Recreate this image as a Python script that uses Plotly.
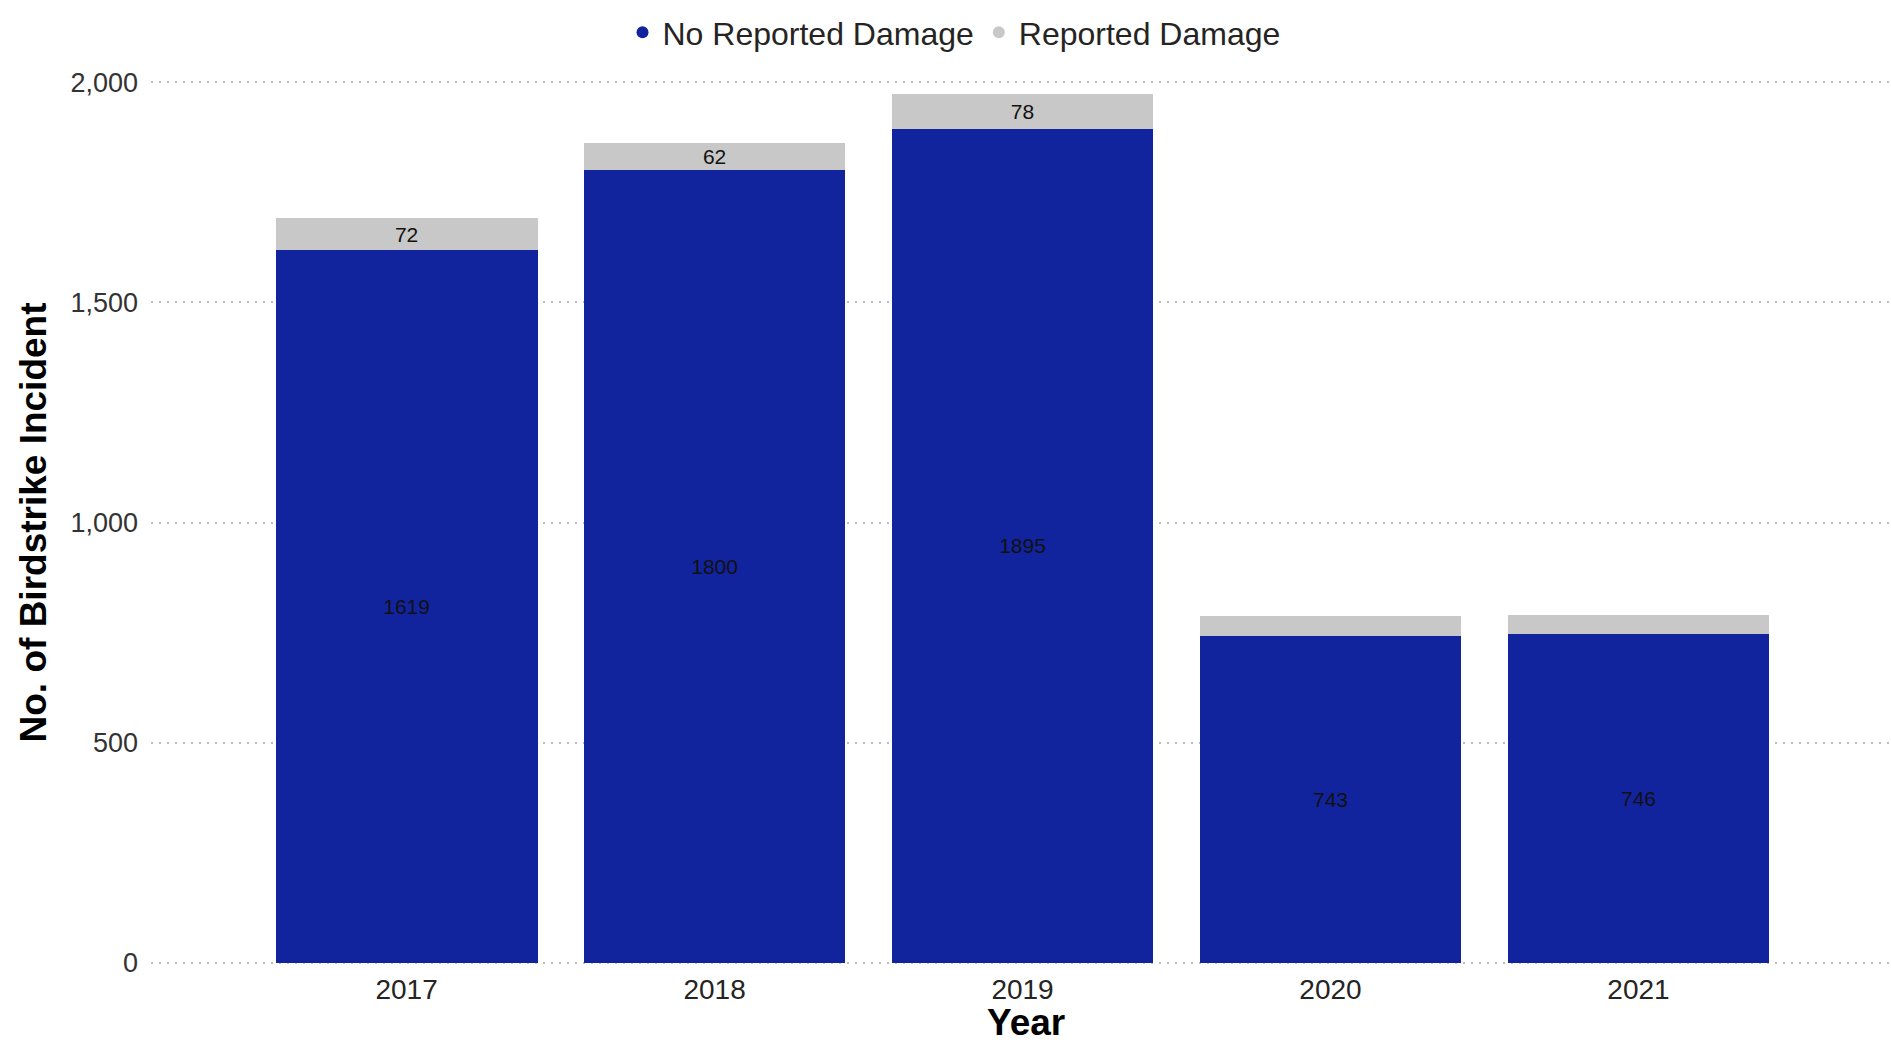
import plotly.graph_objects as go

# Birdstrike incidents per year, split by damage status
years = ["2017", "2018", "2019", "2020", "2021"]
no_damage = [1619, 1800, 1895, 743, 746]
damage = [72, 62, 78, 44, 45]
y_ticks = [0, 500, 1000, 1500, 2000]
y_tick_text = ["0", "500", "1,000", "1,500", "2,000"]

BLUE = "#12239E"
GREY = "#C8C8C8"
TEXT = "#252423"
FONT = "Liberation Sans, Arial, sans-serif"

# small segments are left unlabelled because the label would not fit
damage_text = [str(v) if v >= 50 else "" for v in damage]

fig = go.Figure()
fig.add_trace(go.Bar(
    x=years, y=no_damage, name="No Reported Damage",
    marker=dict(color=BLUE, line=dict(width=0)),
    text=[str(v) for v in no_damage], textposition="inside",
    insidetextanchor="middle", textangle=0,
    textfont=dict(size=21, color="#111111", family=FONT),
    showlegend=False, hoverinfo="x+y+name",
))
fig.add_trace(go.Bar(
    x=years, y=damage, name="Reported Damage",
    marker=dict(color=GREY, line=dict(width=0)),
    text=damage_text, textposition="inside",
    insidetextanchor="middle", textangle=0,
    textfont=dict(size=21, color="#111111", family=FONT),
    constraintext="none",
    showlegend=False, hoverinfo="x+y+name",
))

# legend entries drawn with round markers
for name, color in [("No Reported Damage", BLUE), ("Reported Damage", GREY)]:
    fig.add_trace(go.Scatter(
        x=[None], y=[None], mode="markers", name=name,
        marker=dict(symbol="circle", size=13, color=color),
    ))

fig.update_layout(
    width=1891, height=1044,
    margin=dict(l=151, r=0, t=81, b=80, autoexpand=False),
    barmode="stack", bargap=0.15,
    plot_bgcolor="white", paper_bgcolor="white",
    font=dict(family=FONT, color=TEXT),
    legend=dict(
        orientation="h", x=0.4615, xanchor="center", y=1.055, yanchor="middle",
        font=dict(size=32, color=TEXT, family=FONT),
        itemsizing="constant", traceorder="normal",
        bgcolor="rgba(0,0,0,0)",
    ),
    xaxis=dict(
        type="category", range=[-0.83, 4.82], automargin=False,
        showgrid=False, showline=False, ticks="",
        ticklabelstandoff=6,
        tickfont=dict(size=28, color=TEXT, family=FONT),
    ),
    yaxis=dict(
        range=[-3, 2003], tickvals=y_ticks, ticktext=y_tick_text, automargin=False,
        showgrid=True, gridcolor="#BDBDBD", griddash="2px,6px", gridwidth=2,
        zeroline=False, showline=False, ticks="",
        ticklabelstandoff=12,
        tickfont=dict(size=27, color="#333333", family=FONT),
        title=dict(text="<b>No. of Birdstrike Incident</b>", font=dict(size=37, color="#000000", family=FONT), standoff=12),
    ),
)

# x-axis title placed below the tick labels
fig.add_annotation(
    text="<b>Year</b>", xref="paper", yref="paper", x=0.503, y=-0.066,
    xanchor="center", yanchor="middle", showarrow=False,
    font=dict(size=37, color="#000000", family=FONT),
)

fig.write_html("out.html")
